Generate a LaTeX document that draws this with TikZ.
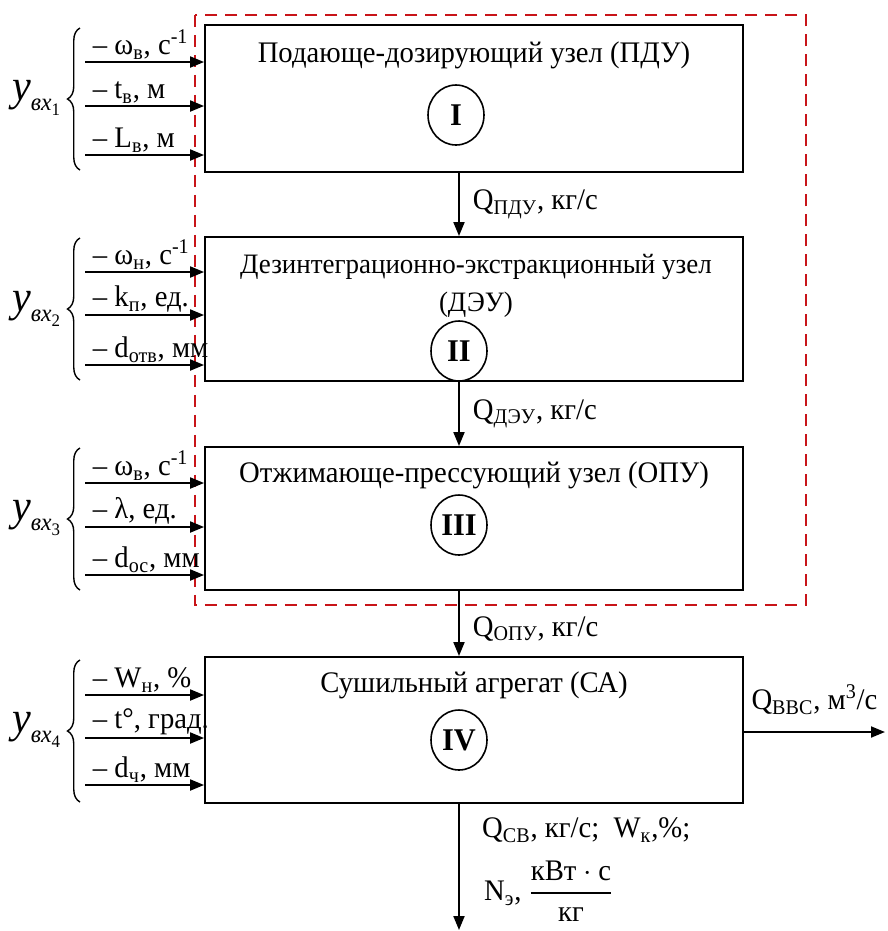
\documentclass[tikz,border=0pt]{standalone}
\usepackage{fontspec}
\setmainfont{Liberation Serif}[FakeStretch=0.96]
\usepackage{amsmath}
\usetikzlibrary{arrows.meta,shapes.geometric,decorations.pathreplacing}

\definecolor{krasn}{RGB}{200,20,25}

% oboznachenie vhoda y_{vh_i}
\newcommand{\yvh}[1]{{\fontsize{25}{27}\selectfont\itshape y}\raisebox{-0.7ex}{{\fontsize{14}{15}\selectfont\itshape вх}\raisebox{-0.4ex}{\fontsize{10}{11}\selectfont #1}}}

\tikzset{
  blok/.style={draw, line width=1.1pt, minimum width=10.76cm, inner sep=0pt},
  nomer/.style={draw, ellipse, line width=0.9pt, minimum width=1.12cm, minimum height=1.2cm, inner sep=0pt, font=\fontsize{18}{20}\selectfont\bfseries},
  vhod/.style={->, line width=1.1pt},
  metka/.style={above right, inner sep=1pt, xshift=3pt},
  skobka/.style={decorate, decoration={brace, amplitude=0.25cm}, line width=0.8pt},
  ramka/.style={draw=krasn, line width=1.2pt, dash pattern=on 0.24cm off 0.16cm},
}

\begin{document}
\begin{tikzpicture}[x=0.02cm, y=-0.02cm, >={Triangle[length=0.28cm,width=0.22cm]},
  font=\fontsize{17}{21.5}\selectfont]

    \useasboundingbox (0,0) rectangle (887,931);

    % Bloki
    \node[blok, minimum height=2.94cm] (pdu) at (474,98.5) {};
    \node[blok, minimum height=2.88cm] (deu) at (474,309) {};
    \node[blok, minimum height=2.86cm] (opu) at (474,518.5) {};
    \node[blok, minimum height=2.92cm] (sa) at (474,730) {};

    % Nazvaniya
    \node (tpdu) at (474,55) {Подающе-дозирующий узел (ПДУ)};
    \node[align=center, font=\fontsize{16}{21.5}\selectfont] (tdeu) at (476,286) {Дезинтеграционно-экстракционный узел\\(ДЭУ)};
    \node (topu) at (474,475) {Отжимающе-прессующий узел (ОПУ)};
    \node (tsa) at (474,685) {Сушильный агрегат (СА)};

    \node[nomer] (n1) at (456,115) {I};
    \node[nomer] (n2) at (459,351) {II};
    \node[nomer] (n3) at (459,525) {III};
    \node[nomer] (n4) at (459,740) {IV};

    % Ramka
    \draw[ramka] (195,15) rectangle (806,605);

    % Potoki mezhdu blokami
    \coordinate (ax) at (459,0);
    \draw[vhod] (pdu.south -| ax) -- (deu.north -| ax)
        node[midway, right, xshift=4pt] {Q\textsubscript{ПДУ}, кг/с};
    \draw[vhod] (deu.south -| ax) -- (opu.north -| ax)
        node[midway, right, xshift=4pt] {Q\textsubscript{ДЭУ}, кг/с};
    \draw[vhod] (opu.south -| ax) -- (sa.north -| ax)
        node[midway, right, xshift=4pt, yshift=-3pt] {Q\textsubscript{ОПУ}, кг/с};

    % Vyhody
    \coordinate (vyh) at (885,732);
    \coordinate (niz) at (459,930);
    \draw[vhod] (sa.east |- vyh) -- (vyh)
        node[midway, above, yshift=6pt] {Q\textsubscript{ВВС}, м\textsuperscript{3}/с};
    \draw[vhod] (sa.south -| niz) -- (niz);
    \node[right] (qsv) at (476,830) {Q\textsubscript{СВ}, кг/с;\ \ W\textsubscript{к},\%;};
    \node[right] (ne) at (478,891) {N\textsubscript{э}, $\dfrac{\text{кВт}\cdot\text{с}}{\text{кг}}$};

    % Vhody bloka I
    \coordinate (a1) at (85,62);
    \coordinate (a2) at (85,106);
    \coordinate (a3) at (85,155);
    \draw[vhod] (a1) -- (a1 -| pdu.west) node[metka, at start] {– ω\textsubscript{в}, с\textsuperscript{-1}};
    \draw[vhod] (a2) -- (a2 -| pdu.west) node[metka, at start] {– t\textsubscript{в}, м};
    \draw[vhod] (a3) -- (a3 -| pdu.west) node[metka, at start] {– L\textsubscript{в}, м};
    \draw[skobka] (80,170) -- (80,28);
    \node (y1) at (36,98) {\yvh{1}};

    % Vhody bloka II
    \coordinate (b1) at (85,272);
    \coordinate (b2) at (85,315);
    \coordinate (b3) at (85,365);
    \draw[vhod] (b1) -- (b1 -| deu.west) node[metka, at start] {– ω\textsubscript{н}, с\textsuperscript{-1}};
    \draw[vhod] (b2) -- (b2 -| deu.west) node[metka, at start] {– k\textsubscript{п}, ед.};
    \draw[vhod] (b3) -- (b3 -| deu.west) node[metka, at start] {– d\textsubscript{отв}, мм};
    \draw[skobka] (80,380) -- (80,238);
    \node (y2) at (36,309) {\yvh{2}};

    % Vhody bloka III
    \coordinate (c1) at (85,483);
    \coordinate (c2) at (85,527);
    \coordinate (c3) at (85,575);
    \draw[vhod] (c1) -- (c1 -| opu.west) node[metka, at start] {– ω\textsubscript{в}, с\textsuperscript{-1}};
    \draw[vhod] (c2) -- (c2 -| opu.west) node[metka, at start] {– λ, ед.};
    \draw[vhod] (c3) -- (c3 -| opu.west) node[metka, at start] {– d\textsubscript{ос}, мм};
    \draw[skobka] (80,590) -- (80,448);
    \node (y3) at (36,518) {\yvh{3}};

    % Vhody bloka IV
    \coordinate (d1) at (85,695);
    \coordinate (d2) at (85,738);
    \coordinate (d3) at (85,785);
    \draw[vhod] (d1) -- (d1 -| sa.west) node[metka, at start] {– W\textsubscript{н}, \%};
    \draw[vhod] (d2) -- (d2 -| sa.west) node[metka, at start] {– t°, град.};
    \draw[vhod] (d3) -- (d3 -| sa.west) node[metka, at start] {– d\textsubscript{ч}, мм};
    \draw[skobka] (80,802) -- (80,660);
    \node (y4) at (36,730) {\yvh{4}};

\end{tikzpicture}
\end{document}
